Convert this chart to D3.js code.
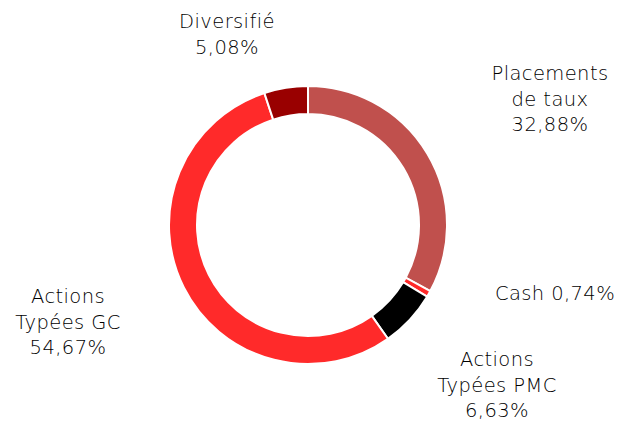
<!DOCTYPE html>
<html>
<head>
<meta charset="utf-8">
<script src="https://cdn.jsdelivr.net/npm/d3@7"></script>
<style>
  body { margin: 0; background: #fff; }
  text { font-family: "DejaVu Sans", sans-serif; fill: #000; }
</style>
</head>
<body>
<div id="chart"></div>
<script>
// data
const categories = ["Placements de taux", "Cash", "Actions Typées PMC", "Actions Typées GC", "Diversifié"];
const values = [32.88, 0.74, 6.63, 54.67, 5.08];
const colors = ["#C0504D", "#FF2A2A", "#000000", "#FF2A2A", "#990000"];
// label lines, as shown in the chart
const labelLines = [
  ["Placements", "de taux", "32,88%"],
  ["Cash 0,74%"],
  ["Actions", "Typées PMC", "6,63%"],
  ["Actions", "Typées GC", "54,67%"],
  ["Diversifié", "5,08%"]
];
// label anchor (center x, first baseline y)
const labelPos = [[550, 80], [555, 300], [497, 366], [68, 303], [227, 28]];

const width = 617, height = 421;
const cx = 308, cy = 225, outerR = 139, innerR = 111;

const svg = d3.select("#chart").append("svg")
  .attr("width", width)
  .attr("height", height);

const pie = d3.pie().sort(null).value(d => d)(values);
const arc = d3.arc().innerRadius(innerR).outerRadius(outerR);

const g = svg.append("g").attr("transform", "translate(" + cx + "," + cy + ")");

g.selectAll("path")
  .data(pie)
  .enter()
  .append("path")
  .attr("d", arc)
  .attr("fill", (d, i) => colors[i])
  .attr("stroke", "#fff")
  .attr("stroke-width", 2);

const labels = svg.selectAll("text.lbl")
  .data(labelLines)
  .enter()
  .append("text")
  .attr("class", "lbl")
  .attr("text-anchor", "middle")
  .style("font-size", "19.5px")
  .style("font-weight", 200)
  .style("letter-spacing", "0.4px");

labels.each(function (lines, i) {
  const t = d3.select(this);
  lines.forEach((line, j) => {
    t.append("tspan")
      .attr("x", labelPos[i][0])
      .attr("y", labelPos[i][1] + j * 25.5)
      .text(line);
  });
});
</script>
</body>
</html>
